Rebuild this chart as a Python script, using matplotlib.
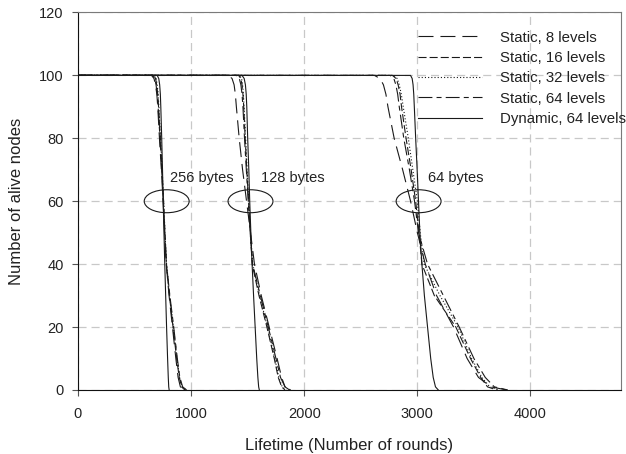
import matplotlib
matplotlib.use("Agg")
import matplotlib.pyplot as plt
from matplotlib.patches import Ellipse

plt.rcParams['font.family'] = ['Liberation Sans', 'DejaVu Sans']
plt.rcParams['lines.scale_dashes'] = False

y_levels = [100, 100, 99, 97, 94, 90, 80, 70, 60, 50, 40, 30, 20, 10, 4, 1, 0]

# 256 byte packets
s8_256 = [0, 650, 672, 685, 697, 705, 720, 737, 752, 765, 780, 805, 835, 865, 885, 905, 930]
s16_256 = [0, 670, 686, 695, 705, 712, 728, 742, 756, 768, 781, 808, 840, 872, 895, 915, 945]
s32_256 = [0, 675, 691, 700, 709, 715, 730, 744, 757, 769, 783, 810, 843, 875, 898, 920, 955]
s64_256 = [0, 660, 679, 690, 700, 708, 725, 740, 755, 768, 782, 812, 846, 878, 900, 925, 960]
dyn_256 = [0, 700, 714, 722, 728, 732, 740, 747, 753, 760, 767, 775, 783, 792, 798, 802, 806]

# 128 byte packets
s8_128 = [0, 1330, 1362, 1380, 1391, 1400, 1425, 1455, 1490, 1525, 1560, 1620, 1690, 1760, 1800, 1830, 1870]
s16_128 = [0, 1420, 1439, 1450, 1458, 1465, 1478, 1492, 1508, 1523, 1540, 1600, 1670, 1735, 1770, 1800, 1830]
s32_128 = [0, 1430, 1446, 1455, 1462, 1468, 1482, 1495, 1510, 1525, 1545, 1605, 1675, 1740, 1775, 1805, 1840]
s64_128 = [0, 1400, 1426, 1440, 1450, 1458, 1472, 1488, 1505, 1522, 1543, 1612, 1682, 1750, 1790, 1830, 1880]
dyn_128 = [0, 1450, 1469, 1480, 1487, 1492, 1500, 1510, 1518, 1528, 1539, 1552, 1566, 1580, 1590, 1597, 1603]

# 64 byte packets
s8_64 = [0, 2620, 2671, 2700, 2722, 2740, 2795, 2870, 2940, 3000, 3070, 3170, 3320, 3440, 3540, 3650, 3790]
s16_64 = [0, 2780, 2812, 2830, 2847, 2860, 2900, 2945, 2985, 3015, 3040, 3150, 3340, 3470, 3560, 3620, 3700]
s32_64 = [0, 2790, 2822, 2840, 2858, 2875, 2920, 2960, 3000, 3025, 3060, 3200, 3360, 3480, 3570, 3640, 3720]
s64_64 = [0, 2760, 2792, 2810, 2826, 2840, 2880, 2930, 2975, 3010, 3090, 3230, 3370, 3500, 3600, 3680, 3800]
dyn_64 = [0, 2940, 2954, 2962, 2968, 2973, 2985, 2998, 3010, 3022, 3040, 3062, 3090, 3118, 3140, 3160, 3185]

labels = ['Static, 8 levels', 'Static, 16 levels', 'Static, 32 levels',
          'Static, 64 levels', 'Dynamic, 64 levels']
groups = {
    'Static, 8 levels': [s8_256, s8_128, s8_64],
    'Static, 16 levels': [s16_256, s16_128, s16_64],
    'Static, 32 levels': [s32_256, s32_128, s32_64],
    'Static, 64 levels': [s64_256, s64_128, s64_64],
    'Dynamic, 64 levels': [dyn_256, dyn_128, dyn_64],
}
styles = {
    'Static, 8 levels': (0, (10.8, 5.0)),
    'Static, 16 levels': (0, (5.8, 2.2)),
    'Static, 32 levels': (0, (0.8, 1.5)),
    'Static, 64 levels': (0, (10.0, 3.0, 3.6, 3.0)),
    'Dynamic, 64 levels': '-',
}

packet_sizes = ['256 bytes', '128 bytes', '64 bytes']
ellipse_x = [784, 1525, 3011]
text_x = [812, 1621, 3098]

fig = plt.figure(figsize=(6.26, 4.54), dpi=100)
ax = fig.add_axes([0.1246, 0.141, 0.8674, 0.8315])

for lab in labels:
    for i, xs in enumerate(groups[lab]):
        ax.plot(xs, y_levels, color='#1a1a1a', lw=0.8, linestyle=styles[lab],
                label=lab if i == 0 else None)

for ex, tx, txt in zip(ellipse_x, text_x, packet_sizes):
    ax.add_patch(Ellipse((ex, 60), 397, 7.3, fill=False, ec='#1a1a1a', lw=0.8))
    ax.text(tx, 67.5, txt, fontsize=10.5, color='#222222', va='center', ha='left')

ax.set_xlim(0, 4800)
ax.set_ylim(0, 120)
ax.set_xticks([0, 1000, 2000, 3000, 4000])
ax.set_yticks([0, 20, 40, 60, 80, 100, 120])
ax.grid(True, color='#c8c8c8', lw=0.9, linestyle=(0, (5.8, 3.6)))
ax.set_axisbelow(True)

ax.spines['top'].set_color('#7a7a7a')
ax.spines['right'].set_color('#7a7a7a')
ax.spines['left'].set_color('#111111')
ax.spines['bottom'].set_color('#111111')
ax.tick_params(direction='out', length=4.3, width=0.8, color='#555555',
               labelsize=10.5, labelcolor='#222222', pad=6)
ax.tick_params(axis='x', pad=8)

ax.set_xlabel('Lifetime (Number of rounds)', fontsize=12, color='#222222', labelpad=12)
ax.set_ylabel('Number of alive nodes', fontsize=12, color='#222222', labelpad=11)

leg = ax.legend(loc='upper left', bbox_to_anchor=(0.626, 0.952), frameon=False,
                fontsize=10.8, handlelength=4.3, handletextpad=1.2,
                labelspacing=0.42, borderpad=0, borderaxespad=0)
for t in leg.get_texts():
    t.set_color('#222222')

fig.savefig('out.png', dpi=100)
